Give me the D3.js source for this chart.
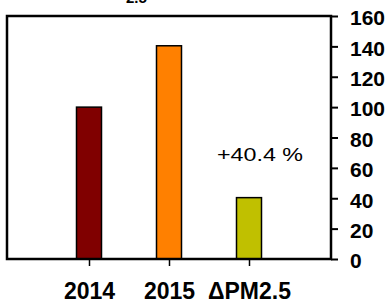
<!DOCTYPE html>
<html>
<head>
<meta charset="utf-8">
<script src="https://cdn.jsdelivr.net/npm/d3@7"></script>
<style>
  html, body { margin: 0; padding: 0; background: #fff; }
  svg { display: block; }
</style>
</head>
<body>
<svg id="chart" width="390" height="301"></svg>
<script>
const categories = ["2014", "2015", "ΔPM2.5"];
const values = [100, 140.4, 40.4];
const colors = ["#800000", "#ff8000", "#c0c000"];
const yTicks = [0, 20, 40, 60, 80, 100, 120, 140, 160];
const annotation = "+40.4 %";
const titleFragment = "2.5";

const svg = d3.select("#chart");
const plotLeft = 7, plotRight = 331, plotTop = 16, plotBottom = 259;

const x = d3.scalePoint().domain(categories).range([plotLeft, plotRight]).padding(1.025);
const y = d3.scaleLinear().domain([0, 160]).range([plotBottom, plotTop]);

// cut-off title fragment
svg.append("text")
  .attr("x", 126).attr("y", 3)
  .attr("font-family", "Liberation Sans, Arial, sans-serif")
  .attr("font-weight", "bold").attr("font-size", 15)
  .text(titleFragment);

// bars
const barW = 25;
svg.selectAll("rect.bar").data(categories).enter().append("rect")
  .attr("class", "bar")
  .attr("x", d => x(d) - barW / 2)
  .attr("width", barW)
  .attr("y", (d, i) => y(values[i]))
  .attr("height", (d, i) => y(0) - y(values[i]))
  .attr("fill", (d, i) => colors[i])
  .attr("stroke", "#000").attr("stroke-width", 1.5);

// frame
svg.append("rect")
  .attr("x", plotLeft).attr("y", plotTop)
  .attr("width", plotRight - plotLeft).attr("height", plotBottom - plotTop)
  .attr("fill", "none").attr("stroke", "#000").attr("stroke-width", 2.5);

// right axis
const yAxis = d3.axisRight(y).tickValues(yTicks).tickSize(7).tickPadding(12);
const gy = svg.append("g").attr("transform", `translate(${plotRight},0)`).call(yAxis);
gy.select(".domain").remove();
gy.selectAll(".tick line").attr("stroke", "#000").attr("stroke-width", 2);
gy.selectAll(".tick text")
  .attr("font-family", "Liberation Sans, Arial, sans-serif")
  .attr("font-weight", "bold").attr("font-size", 21)
  .attr("fill", "#000")
  .attr("dy", "0.42em");

// bottom axis
const xAxis = d3.axisBottom(x).tickSize(7).tickPadding(0);
const gx = svg.append("g").attr("transform", `translate(0,${plotBottom})`).call(xAxis);
gx.select(".domain").remove();
gx.selectAll(".tick line").attr("stroke", "#000").attr("stroke-width", 1.5);
gx.selectAll(".tick text")
  .attr("font-family", "Liberation Sans, Arial, sans-serif")
  .attr("font-weight", "bold").attr("font-size", 23)
  .attr("fill", "#000")
  .attr("y", 40).attr("dy", 0);

// annotation
svg.append("text")
  .attr("x", 217).attr("y", 161)
  .attr("font-family", "Liberation Sans, Arial, sans-serif")
  .attr("font-size", 19)
  .attr("textLength", 86)
  .attr("lengthAdjust", "spacingAndGlyphs")
  .attr("fill", "#000")
  .text(annotation);
</script>
</body>
</html>
